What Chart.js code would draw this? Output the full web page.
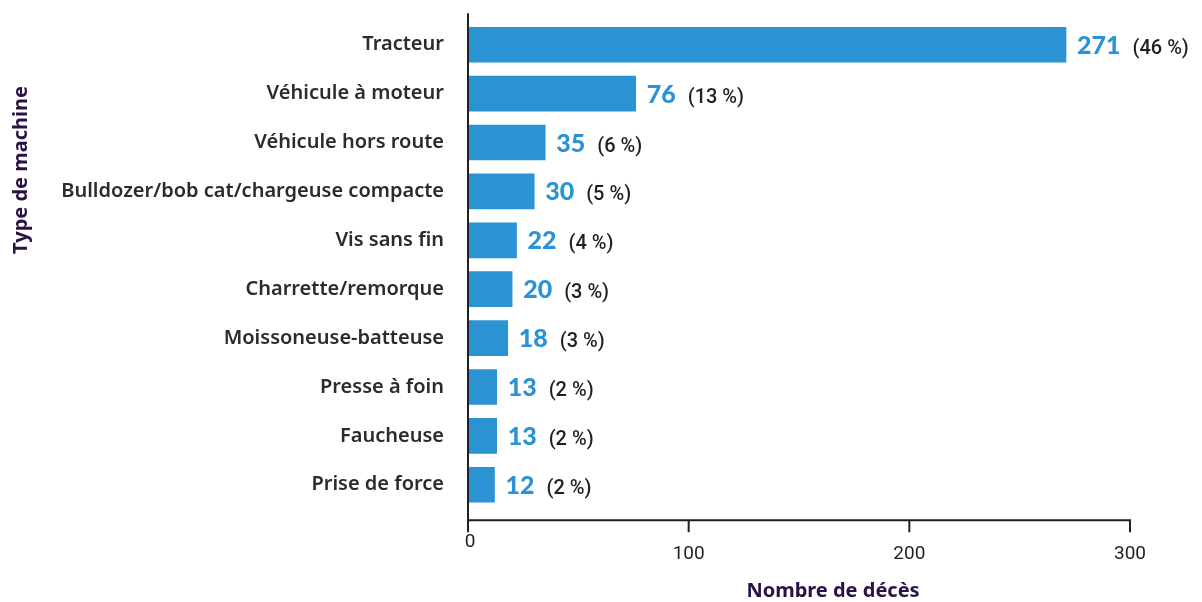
<!DOCTYPE html>
<html>
<head>
<meta charset="utf-8">
<script src="https://cdn.jsdelivr.net/npm/chart.js@4.4.1/dist/chart.umd.min.js"></script>
<style>
  html, body { margin: 0; padding: 0; background: #fff; }
  #wrap { width: 1202px; height: 602px; position: relative; }
</style>
</head>
<body>
<div id="wrap"><canvas id="c"></canvas></div>
<script>
const categories = [
  'Tracteur',
  'Véhicule à moteur',
  'Véhicule hors route',
  'Bulldozer/bob cat/chargeuse compacte',
  'Vis sans fin',
  'Charrette/remorque',
  'Moissoneuse-batteuse',
  'Presse à foin',
  'Faucheuse',
  'Prise de force',
];
const deaths = [271, 76, 35, 30, 22, 20, 18, 13, 13, 12];
const shares = [46, 13, 6, 5, 4, 3, 3, 2, 2, 2];
const xTicks = [0, 100, 200, 300];

const BLUE = '#2b92d3';
const INK = '#231f20';
const PURPLE = '#2a1245';
const LABEL_FONT = '"Source Sans Pro", "Noto Sans", sans-serif';
const TICK_FONT = 'Roboto, sans-serif';

// Axis lines + ticks are drawn by hand: the reference axis overshoots the
// category band a little on both ends, which Chart.js can't do on its own.
const axisPlugin = {
  id: 'hand-axes',
  afterDatasetsDraw(chart) {
    const { ctx, chartArea, scales } = chart;
    const x0 = scales.x.getPixelForValue(0);
    const axisY = chartArea.bottom + 11;
    ctx.save();
    ctx.strokeStyle = INK;
    ctx.lineWidth = 2;
    ctx.beginPath();
    ctx.moveTo(x0, chartArea.top - 7);
    ctx.lineTo(x0, axisY);
    ctx.lineTo(scales.x.getPixelForValue(300) + 1, axisY);
    ctx.stroke();

    ctx.font = '19px ' + TICK_FONT;
    ctx.fillStyle = INK;
    ctx.textAlign = 'center';
    ctx.textBaseline = 'middle';
    xTicks.forEach(v => {
      const px = scales.x.getPixelForValue(v);
      ctx.beginPath();
      ctx.moveTo(px, axisY);
      ctx.lineTo(px, axisY + 12);
      ctx.stroke();
      // the zero label sits higher than the others in the original
      ctx.fillText(String(v), px + (v === 0 ? 2 : 0), v === 0 ? axisY + 22 : axisY + 34);
    });

    ctx.font = 'bold 20px ' + LABEL_FONT;
    ctx.fillStyle = PURPLE;
    ctx.fillText('Nombre de décès', 833, 591);

    ctx.translate(21, 170);
    ctx.rotate(-Math.PI / 2);
    ctx.fillText('Type de machine', 0, 0);
    ctx.restore();
  },
};

// "271 (46 %)" style labels right of each bar
const valueLabels = {
  id: 'value-labels',
  afterDatasetsDraw(chart) {
    const { ctx } = chart;
    const meta = chart.getDatasetMeta(0);
    ctx.save();
    ctx.textBaseline = 'alphabetic';
    ctx.textAlign = 'left';
    meta.data.forEach((bar, i) => {
      const base = bar.y + 9;
      let x = bar.x + 11;
      ctx.font = '900 25px Lato, sans-serif';
      ctx.fillStyle = BLUE;
      const num = String(deaths[i]);
      ctx.fillText(num, x, base);
      x += ctx.measureText(num).width + 12;
      ctx.font = '500 20px ' + TICK_FONT;
      ctx.fillStyle = INK;
      ctx.fillText('(' + shares[i] + ' %)', x, base);
    });
    ctx.restore();
  },
};

new Chart(document.getElementById('c'), {
  type: 'bar',
  data: {
    labels: categories,
    datasets: [{
      data: deaths,
      backgroundColor: BLUE,
      barThickness: 35,
      borderWidth: 0,
    }],
  },
  options: {
    indexAxis: 'y',
    responsive: true,
    maintainAspectRatio: false,
    animation: false,
    layout: { padding: { top: 20.3, right: 72, bottom: 92.8, left: 0 } },
    scales: {
      x: {
        display: false,
        min: 0,
        max: 300,
      },
      y: {
        grid: { display: false },
        border: { display: false },
        ticks: {
          color: '#2b2b2b',
          padding: 16,
          font: { family: LABEL_FONT, size: 20, weight: '600' },
        },
        afterFit: s => {
          s.width = 468;
          s.paddingTop = 0;
          s.paddingBottom = 0;
        },
      },
    },
    plugins: {
      legend: { display: false },
      tooltip: { enabled: false },
    },
  },
  plugins: [axisPlugin, valueLabels],
});
</script>
</body>
</html>
